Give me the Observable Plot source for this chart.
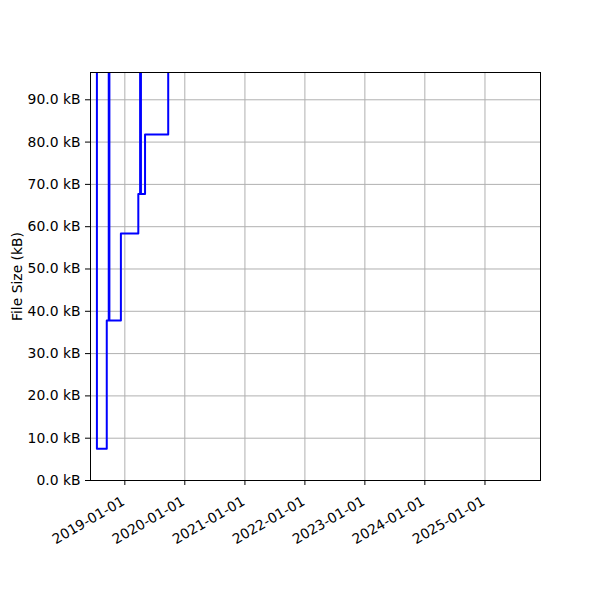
<!DOCTYPE html>
<html>
<head>
<meta charset="utf-8">
<script src="https://cdn.jsdelivr.net/npm/d3@7"></script>
<script src="https://cdn.jsdelivr.net/npm/@observablehq/plot@0.6"></script>
<style>
  html, body { margin: 0; padding: 0; background: white; }
  #chart svg { display: block; }
</style>
</head>
<body>
<div id="chart"></div>
<script>
// Commit dates and file sizes (kB); values above the axis top run off the chart
const dates = [
  "2018-07-01", "2018-07-15", "2018-09-13", "2018-09-25", "2018-09-29",
  "2018-12-08", "2019-03-24", "2019-04-04", "2019-04-09", "2019-05-04",
  "2019-09-22", "2025-10-01"
];
const sizes = [150, 7.5, 37.8, 150, 37.8, 58.4, 67.7, 150, 67.7, 81.8, 150, 150];

const yTicks = [0, 10, 20, 30, 40, 50, 60, 70, 80, 90];
const xTickLabels = ["2019-01-01", "2020-01-01", "2021-01-01", "2022-01-01", "2023-01-01", "2024-01-01", "2025-01-01"];
const xDomain = ["2018-06-06", "2025-12-05"];
const yDomain = [0, 96.45];

const data = dates.map((d, i) => ({date: new Date(d), size: sizes[i]}));
const xTicks = xTickLabels.map(d => new Date(d));
const fmt = d3.utcFormat("%Y-%m-%d");

const chart = Plot.plot({
  width: 600,
  height: 600,
  marginLeft: 90,
  marginRight: 60,
  marginTop: 72,
  marginBottom: 120,
  style: {fontFamily: "DejaVu Sans", fontSize: "13.9px", color: "black", background: "white"},
  x: {type: "utc", domain: xDomain.map(d => new Date(d))},
  y: {domain: yDomain},
  marks: [
    Plot.gridX(xTicks, {stroke: "#b0b0b0", strokeOpacity: 1, strokeWidth: 1}),
    Plot.gridY(yTicks, {stroke: "#b0b0b0", strokeOpacity: 1, strokeWidth: 1}),
    Plot.line(data, {x: "date", y: "size", curve: "step-after", stroke: "#0000ff", strokeWidth: 2, clip: true}),
    Plot.frame({stroke: "black", strokeWidth: 1}),
    Plot.axisY({
      ticks: yTicks,
      tickFormat: d => d.toFixed(1) + " kB",
      tickSize: 5,
      tickPadding: 5,
      label: "File Size (kB)",
      labelAnchor: "center",
      labelArrow: "none",
      labelOffset: 78
    }),
    Plot.axisX({
      ticks: xTicks,
      tickFormat: () => "",
      tickSize: 5,
      label: null
    }),
    Plot.text(xTicks, {
      x: d => d,
      text: d => fmt(d),
      frameAnchor: "bottom",
      rotate: -30,
      textAnchor: "end",
      lineAnchor: "top",
      dx: -4,
      dy: 15,
      fontSize: 13.9
    })
  ]
});
document.getElementById("chart").appendChild(chart);
</script>
</body>
</html>
